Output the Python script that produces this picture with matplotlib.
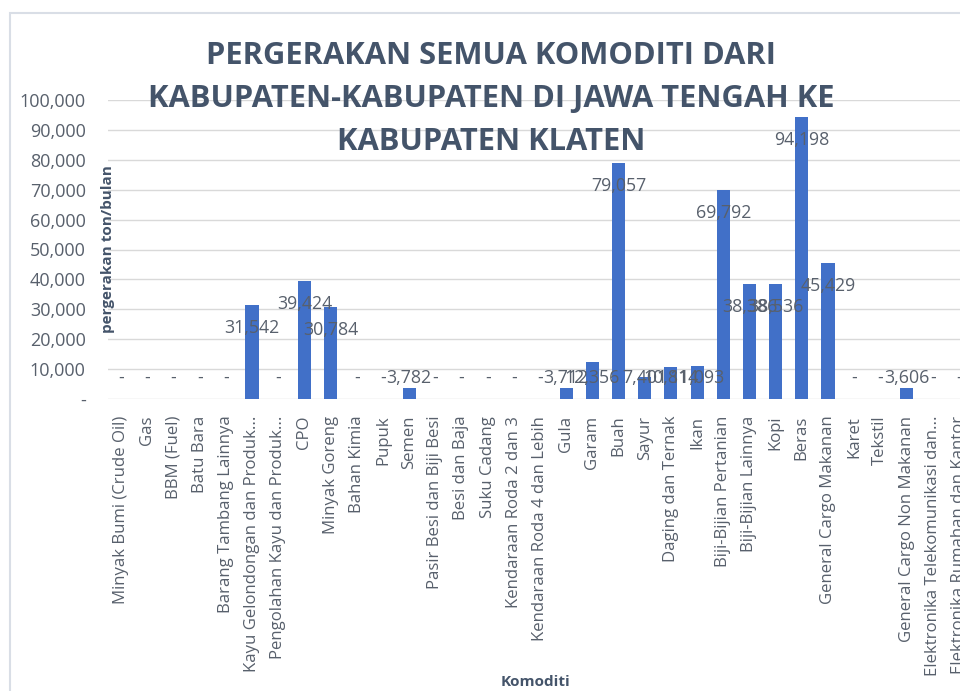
import matplotlib.pyplot as plt
from matplotlib.patches import Rectangle
from matplotlib.ticker import FuncFormatter

plt.rcParams['font.family'] = ['Open Sans', 'DejaVu Sans']

# data (ton/bulan)
komoditi = [
    "Minyak Bumi (Crude Oil)", "Gas", "BBM (Fuel)", "Batu Bara",
    "Barang Tambang Lainnya", "Kayu Gelondongan dan Produk...",
    "Pengolahan Kayu dan Produk...", "CPO", "Minyak Goreng", "Bahan Kimia",
    "Pupuk", "Semen", "Pasir Besi dan Biji Besi", "Besi dan Baja",
    "Suku Cadang", "Kendaraan Roda 2 dan 3", "Kendaraan Roda 4 dan Lebih",
    "Gula", "Garam", "Buah", "Sayur", "Daging dan Ternak", "Ikan",
    "Biji-Bijian Pertanian", "Biji-Bijian Lainnya", "Kopi", "Beras",
    "General Cargo Makanan", "Karet", "Tekstil", "General Cargo Non Makanan",
    "Elektronika Telekomunikasi dan...", "Elektronika Rumahan dan Kantor",
]
pergerakan = [
    0, 0, 0, 0, 0, 31542, 0, 39424, 30784, 0,
    0, 3782, 0, 0, 0, 0, 0,
    3712, 12356, 79057, 7401, 10814, 11093,
    69792, 38386, 38536, 94198, 45429, 0, 0, 3606, 0, 0,
]
yticks = [0, 10000, 20000, 30000, 40000, 50000, 60000, 70000, 80000, 90000, 100000]

title_color = "#44546A"
text_color = "#58606c"
bar_color = "#4170C8"

fig = plt.figure(figsize=(9.6, 6.91), dpi=100)

# chart area border (runs off the right/bottom edge like the screenshot)
fig.patches.append(Rectangle((10 / 960, -0.05), 1.1, (691 - 13) / 691 + 0.05,
                             transform=fig.transFigure, fill=False,
                             edgecolor="#D9DEE6", linewidth=1.5))

ax = fig.add_axes([108 / 960, (691 - 399) / 691, (972 - 108) / 960, 299 / 691])
x = list(range(len(komoditi)))
ax.bar(x, pergerakan, width=0.5, color=bar_color, zorder=3)

ax.set_xlim(-0.5, len(komoditi) - 0.5)
ax.set_ylim(0, 100000)
ax.set_yticks(yticks)
ax.yaxis.set_major_formatter(FuncFormatter(lambda v, p: "-" if v == 0 else f"{int(v):,}"))
ax.grid(axis="y", color="#D9D9D9", linewidth=1, zorder=0)
for s in ax.spines.values():
    s.set_visible(False)
ax.tick_params(axis="both", length=0, colors=text_color)
ax.tick_params(axis="y", pad=16, labelsize=13)
ax.tick_params(axis="x", pad=12, labelsize=12.1)
ax.set_xticks(x)
ax.set_xticklabels(komoditi, rotation=90, va="top", ha="center")

# data labels, Excel style (zero shown as "-")
for xi, v in zip(x, pergerakan):
    label = "-" if v == 0 else f"{v:,}"
    ax.text(xi, max(v - 7700, 7000), label, ha="center", va="center",
            fontsize=12.8, color=text_color, zorder=4)

ax.set_ylabel("pergerakan ton/bulan", fontsize=11, fontweight="bold",
              color=title_color, labelpad=0)
ax.yaxis.set_label_coords(0.008, 0.5)
fig.text(535 / 960, 1 - 682 / 691, "Komoditi", ha="center", va="center",
         fontsize=11, fontweight="bold", color=title_color)

fig.text(491 / 960, 1 - 99 / 691,
         "PERGERAKAN SEMUA KOMODITI DARI\nKABUPATEN-KABUPATEN DI JAWA TENGAH KE\nKABUPATEN KLATEN",
         ha="center", va="center", fontsize=22.2, fontweight="bold",
         color=title_color, linespacing=1.55, zorder=5)

fig.savefig("out.png", dpi=100)
